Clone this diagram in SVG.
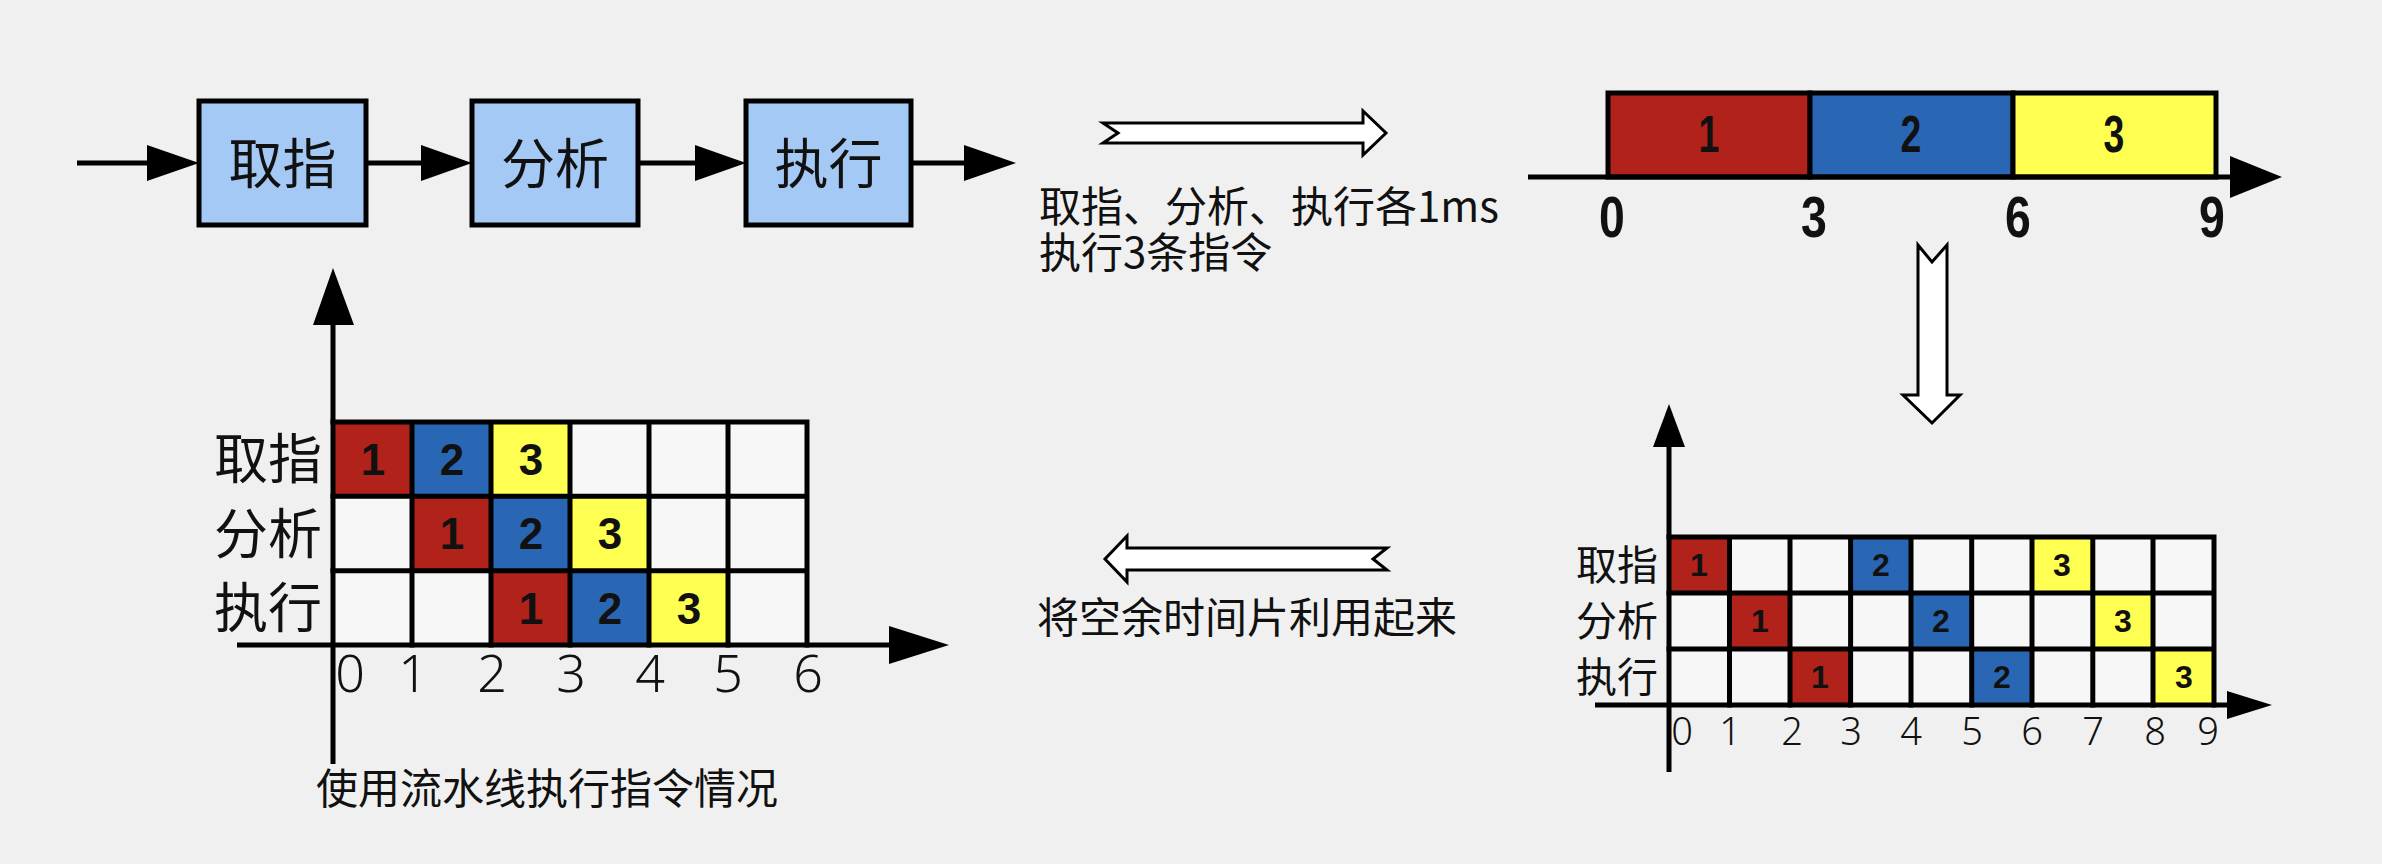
<svg xmlns="http://www.w3.org/2000/svg" width="2382" height="864" viewBox="0 0 2382 864">
  <style>
    .cjk { font-family: "Noto Sans CJK SC", "Noto Sans", sans-serif; fill: #111; }
    .stage { fill: #a4c9f4; stroke: #000; stroke-width: 5; }
    .line { stroke: #000; stroke-width: 5; fill: none; }
    .head { fill: #000; }
    .hollow { fill: #fff; stroke: #000; stroke-width: 3; stroke-linejoin: miter; }
    .cell { fill: #f7f7f7; }
    .r { fill: #b0221a; }
    .b { fill: #2967b4; }
    .y { fill: #ffff52; }
    .grid { stroke: #000; stroke-width: 5; fill: none; stroke-linecap: square; }
    .dig { font-family: "Liberation Sans", Arial, sans-serif; font-weight: bold; fill: #111; text-anchor: middle; }
    .num { font-family: "Noto Sans", "Liberation Sans", sans-serif; font-weight: 300; fill: #111; text-anchor: middle; }
  </style>
  <rect width="2382" height="864" fill="#f0f0f0"/>

  <!-- pipeline stages -->
  <g id="stage-fetch">
    <rect class="stage" x="199" y="101" width="167" height="124"/>
    <text class="cjk" x="282.5" y="184" font-size="54" text-anchor="middle">取指</text>
  </g>
  <g id="stage-decode">
    <rect class="stage" x="472" y="101" width="166" height="124"/>
    <text class="cjk" x="555" y="184" font-size="54" text-anchor="middle">分析</text>
  </g>
  <g id="stage-exec">
    <rect class="stage" x="746" y="101" width="165" height="124"/>
    <text class="cjk" x="828.5" y="184" font-size="54" text-anchor="middle">执行</text>
  </g>

  <!-- sequential timeline: 3 instructions, 3ms each -->
  <g id="serial-timeline">
    <rect class="r" x="1608" y="93" width="202" height="84" stroke="#000" stroke-width="5"/>
    <rect class="b" x="1810" y="93" width="203" height="84" stroke="#000" stroke-width="5"/>
    <rect class="y" x="2013" y="93" width="203" height="84" stroke="#000" stroke-width="5"/>
    <line class="line" x1="1528" y1="177" x2="2235" y2="177" stroke-width="6"/>
    <polygon class="head" points="2230,156 2282,177 2230,198"/>
    <g font-family="Liberation Sans, Arial, sans-serif" font-size="52" font-weight="bold" fill="#111" text-anchor="middle">
      <text transform="translate(1709,152) scale(0.72,1)">1</text>
      <text transform="translate(1911,152) scale(0.72,1)">2</text>
      <text transform="translate(2114,152) scale(0.72,1)">3</text>
    </g>
    <g font-family="Liberation Sans, Arial, sans-serif" font-size="58" font-weight="bold" fill="#111" text-anchor="middle">
      <text transform="translate(1612,237) scale(0.8,1)">0</text>
      <text transform="translate(1814,237) scale(0.8,1)">3</text>
      <text transform="translate(2018,237) scale(0.8,1)">6</text>
      <text transform="translate(2212,237) scale(0.8,1)">9</text>
    </g>
  </g>

  <!-- stage-by-stage schedule without overlap -->
  <g id="stage-schedule">
    <g>
      <rect class="cell" x="1669" y="537" width="545" height="168"/>
      <rect class="r" x="1669" y="537" width="60.5" height="56"/>
      <rect class="b" x="1850.6" y="537" width="60.5" height="56"/>
      <rect class="y" x="2032" y="537" width="60.8" height="56"/>
      <rect class="r" x="1729.5" y="593" width="60.5" height="56"/>
      <rect class="b" x="1911" y="593" width="60.7" height="56"/>
      <rect class="y" x="2092.8" y="593" width="60.2" height="56"/>
      <rect class="r" x="1790" y="649" width="60.6" height="56"/>
      <rect class="b" x="1971.7" y="649" width="60.3" height="56"/>
      <rect class="y" x="2153" y="649" width="61" height="56"/>
    </g>
    <path class="grid" d="M1669,537 H2214 M1669,593 H2214 M1669,649 H2214
      M1729.5,537 V705 M1790,537 V705 M1850.6,537 V705 M1911,537 V705 M1971.7,537 V705
      M2032,537 V705 M2092.8,537 V705 M2153,537 V705 M2214,537 V705"/>
    <line class="line" x1="1669" y1="445" x2="1669" y2="772"/>
    <polygon class="head" points="1653,447 1669,404 1685,447"/>
    <line class="line" x1="1595" y1="705" x2="2230" y2="705"/>
    <polygon class="head" points="2227,691 2272,705 2227,719"/>
    <g class="cjk" font-size="41" text-anchor="end">
      <text x="1658" y="580">取指</text>
      <text x="1658" y="636">分析</text>
      <text x="1658" y="692">执行</text>
    </g>
    <g class="dig" font-size="32">
      <text x="1699" y="576">1</text>
      <text x="1881" y="576">2</text>
      <text x="2062" y="576">3</text>
      <text x="1760" y="632">1</text>
      <text x="1941" y="632">2</text>
      <text x="2123" y="632">3</text>
      <text x="1820" y="688">1</text>
      <text x="2002" y="688">2</text>
      <text x="2184" y="688">3</text>
    </g>
    <g class="num" font-size="38">
      <text x="1682" y="745">0</text>
      <text x="1730" y="745">1</text>
      <text x="1792" y="745">2</text>
      <text x="1851" y="745">3</text>
      <text x="1911" y="745">4</text>
      <text x="1972" y="745">5</text>
      <text x="2032" y="745">6</text>
      <text x="2093" y="745">7</text>
      <text x="2155" y="745">8</text>
      <text x="2208" y="745">9</text>
    </g>
  </g>

  <!-- pipelined schedule -->
  <g id="pipeline-schedule">
    <g>
      <rect class="cell" x="333" y="422" width="474" height="223"/>
      <rect class="r" x="333" y="422" width="79" height="74.3"/>
      <rect class="b" x="412" y="422" width="79" height="74.3"/>
      <rect class="y" x="491" y="422" width="79" height="74.3"/>
      <rect class="r" x="412" y="496.3" width="79" height="74.4"/>
      <rect class="b" x="491" y="496.3" width="79" height="74.4"/>
      <rect class="y" x="570" y="496.3" width="79" height="74.4"/>
      <rect class="r" x="491" y="570.7" width="79" height="74.3"/>
      <rect class="b" x="570" y="570.7" width="79" height="74.3"/>
      <rect class="y" x="649" y="570.7" width="79" height="74.3"/>
    </g>
    <path class="grid" d="M333,422 H807 M333,496.3 H807 M333,570.7 H807
      M412,422 V645 M491,422 V645 M570,422 V645 M649,422 V645 M728,422 V645 M807,422 V645"/>
    <line class="line" x1="333" y1="320" x2="333" y2="764"/>
    <polygon class="head" points="313,325 333,268 354,325"/>
    <line class="line" x1="237" y1="645" x2="892" y2="645"/>
    <polygon class="head" points="889,626 949,645 889,664"/>
    <g class="cjk" font-size="54" text-anchor="end">
      <text x="322" y="479">取指</text>
      <text x="322" y="554">分析</text>
      <text x="322" y="628">执行</text>
    </g>
    <g class="dig" font-size="44">
      <text x="373" y="475">1</text>
      <text x="452" y="475">2</text>
      <text x="531" y="475">3</text>
      <text x="452" y="549">1</text>
      <text x="531" y="549">2</text>
      <text x="610" y="549">3</text>
      <text x="531" y="624">1</text>
      <text x="610" y="624">2</text>
      <text x="689" y="624">3</text>
    </g>
    <g class="num" font-size="52">
      <text x="350" y="692">0</text>
      <text x="413" y="692">1</text>
      <text x="492" y="692">2</text>
      <text x="571" y="692">3</text>
      <text x="650" y="692">4</text>
      <text x="728" y="692">5</text>
      <text x="808" y="692">6</text>
    </g>
  </g>

  <!-- captions -->
  <g id="caption-serial" class="cjk" font-size="42">
    <text x="1039" y="222">取指、分析、执行各1ms</text>
    <text x="1039" y="268">执行3条指令</text>
  </g>
  <g id="caption-reuse" class="cjk" font-size="42">
    <text x="1037" y="633">将空余时间片利用起来</text>
  </g>
  <g id="caption-pipeline" class="cjk" font-size="42">
    <text x="316" y="804">使用流水线执行指令情况</text>
  </g>

  <!-- connectors -->
  <g id="connectors">
    <line class="line" x1="77" y1="163" x2="150" y2="163"/>
    <polygon class="head" points="147,145 199,163 147,181"/>
    <line class="line" x1="366" y1="163" x2="424" y2="163"/>
    <polygon class="head" points="421,145 472,163 421,181"/>
    <line class="line" x1="638" y1="163" x2="698" y2="163"/>
    <polygon class="head" points="695,145 746,163 695,181"/>
    <line class="line" x1="911" y1="163" x2="967" y2="163"/>
    <polygon class="head" points="964,145 1016,163 964,181"/>
    <polygon class="hollow" points="1103,123 1363,123 1363,111 1386,133 1363,155 1363,143 1103,143 1118,133"/>
    <polygon class="hollow" points="1918,245 1932,262 1947,245 1947,395 1960,395 1932,423 1903,395 1918,395"/>
    <polygon class="hollow" points="1387,548 1127,548 1127,536 1105,559 1127,582 1127,570 1387,570 1373,559"/>
  </g>
</svg>
